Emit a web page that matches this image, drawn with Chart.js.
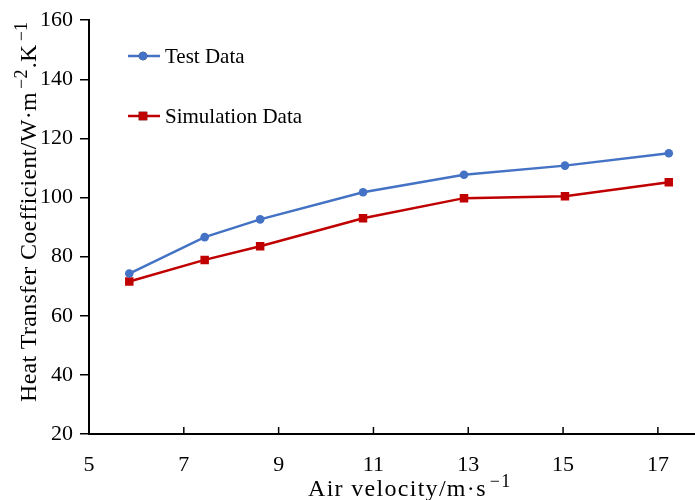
<!DOCTYPE html>
<html>
<head>
<meta charset="utf-8">
<script src="https://cdn.jsdelivr.net/npm/chart.js@4.4.0/dist/chart.umd.min.js"></script>
<style>
  html, body { margin: 0; padding: 0; background: #fff; overflow: hidden; }
  #wrap { width: 735px; height: 500px; }
</style>
</head>
<body>
<div id="wrap"><canvas id="c" width="735" height="500"></canvas></div>
<script>
// values
const velocity = [5.85, 7.44, 8.61, 10.78, 12.91, 15.04, 17.23];
const testData = [74.3, 86.6, 92.6, 101.8, 107.7, 110.8, 115.0];
const simData = [71.6, 78.9, 83.5, 93.0, 99.8, 100.4, 105.2];
const xTicks = [5, 7, 9, 11, 13, 15, 17];
const yTicks = [20, 40, 60, 80, 100, 120, 140, 160];

const ff = '"Liberation Serif", "Times New Roman", serif';
const blue = '#4472C4', red = '#C00000';

// axis titles with real superscripts: [text, isSuperscript]
const xTitle = [['Air velocity/m·s', false], ['−1', true]];
const yTitle = [['Heat Transfer Coefficient/W·m', false], ['−2', true], ['.K', false], ['−1', true]];

function drawRich(ctx, parts, size, supSize, spacing) {
    let x = 0;
    parts.forEach(([t, sup]) => {
        ctx.font = (sup ? supSize : size) + 'px ' + ff;
        ctx.letterSpacing = spacing + 'px';
        if (sup) x += 3;
        ctx.fillText(t, x, sup ? -9 : 0);
        x += ctx.measureText(t).width + (sup ? 1 : 0);
    });
}

const axisTitles = {
    id: 'axisTitles',
    afterDraw(chart) {
        const ctx = chart.ctx;
        ctx.save();
        ctx.fillStyle = '#000';
        ctx.textBaseline = 'alphabetic';
        ctx.translate(308, 496);
        drawRich(ctx, xTitle, 24, 18, 1.3);
        ctx.restore();
        ctx.save();
        ctx.fillStyle = '#000';
        ctx.translate(36, 402);
        ctx.rotate(-Math.PI / 2);
        drawRich(ctx, yTitle, 24, 18, 0.3);
        ctx.restore();
    }
};

// legend drawn inside the plot, stacked with a wide gap like the original
const innerLegend = {
    id: 'innerLegend',
    afterDraw(chart) {
        const ctx = chart.ctx;
        const rows = [56, 116];
        chart.data.datasets.forEach((ds, i) => {
            const y = rows[i];
            ctx.save();
            ctx.strokeStyle = ds.borderColor;
            ctx.lineWidth = ds.borderWidth;
            ctx.beginPath(); ctx.moveTo(128, y); ctx.lineTo(160, y); ctx.stroke();
            Chart.helpers.drawPoint(ctx, {
                pointStyle: ds.pointStyle, radius: ds.pointRadius, borderWidth: 0, rotation: 0
            }, 143, y);
            ctx.fillStyle = ds.backgroundColor;
            ctx.fill();
            ctx.fillStyle = '#000';
            ctx.font = '21px ' + ff;
            ctx.textBaseline = 'middle';
            ctx.fillText(ds.label, 165, y + 1);
            ctx.restore();
        });
    }
};

// x ticks point into the plot
const inwardTicks = {
    id: 'inwardTicks',
    afterDraw(chart) {
        const xs = chart.scales.x, ctx = chart.ctx;
        const bottom = chart.chartArea.bottom;
        ctx.save();
        ctx.strokeStyle = '#000';
        ctx.lineWidth = 1.5;
        xTicks.forEach(v => {
            const px = xs.getPixelForValue(v);
            ctx.beginPath(); ctx.moveTo(px, bottom); ctx.lineTo(px, bottom - 7); ctx.stroke();
        });
        ctx.restore();
    }
};

new Chart(document.getElementById('c'), {
    type: 'line',
    data: {
        datasets: [
            { label: 'Test Data', data: velocity.map((v, i) => ({ x: v, y: testData[i] })),
              borderColor: blue, backgroundColor: blue, borderWidth: 2.5,
              pointStyle: 'circle', pointRadius: 4.3, pointBorderWidth: 0, tension: 0 },
            { label: 'Simulation Data', data: velocity.map((v, i) => ({ x: v, y: simData[i] })),
              borderColor: red, backgroundColor: red, borderWidth: 2.5,
              pointStyle: 'rect', pointRadius: 6, pointBorderWidth: 0, tension: 0 }
        ]
    },
    options: {
        responsive: false, animation: false,
        layout: { padding: { top: 19, right: 2, left: 0, bottom: 0 } },
        plugins: { legend: { display: false }, tooltip: { enabled: false } },
        scales: {
            x: {
                type: 'linear', min: 5, max: 18.5,
                afterBuildTicks: s => { s.ticks = xTicks.map(v => ({ value: v })); },
                afterFit: s => { s.height = 66; },
                grid: { display: false, drawTicks: false },
                border: { color: '#000', width: 2 },
                ticks: { color: '#000', font: { family: ff, size: 22 }, padding: 18, maxRotation: 0 }
            },
            y: {
                min: 20, max: 160,
                afterBuildTicks: s => { s.ticks = yTicks.map(v => ({ value: v })); },
                afterFit: s => { s.width = 89; },
                grid: { drawOnChartArea: false, drawTicks: true, tickLength: 9, color: '#000', lineWidth: 1.5 },
                border: { color: '#000', width: 2 },
                ticks: { color: '#000', font: { family: ff, size: 22 }, padding: 7 }
            }
        }
    },
    plugins: [innerLegend, inwardTicks, axisTitles]
});
</script>
</body>
</html>
